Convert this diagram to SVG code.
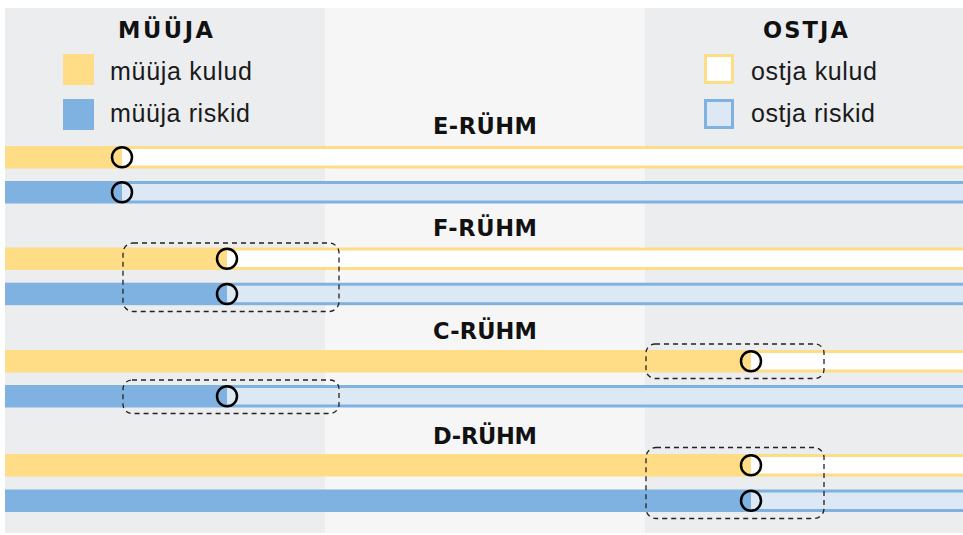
<svg xmlns="http://www.w3.org/2000/svg" width="963" height="535" viewBox="0 0 963 535">
<style>
.hd{font-family:"DejaVu Sans","Liberation Sans",Arial,sans-serif;font-weight:bold;font-size:22.5px;fill:#111}
.lg{font-family:"Liberation Sans",Arial,sans-serif;font-size:25px;fill:#1a1a1a}
.y{fill:#fedd86}
.b{fill:#80b2e1}
.w{fill:#ffffff}
.lb{fill:#dce8f4}
.c{fill:none;stroke:#000;stroke-width:2.5}
.d{fill:none;stroke:#222;stroke-width:1.3;stroke-dasharray:5 4}
</style>
<rect x="0" y="0" width="963" height="535" fill="#ffffff"/>
<g id="panels">
<rect x="5" y="8" width="320" height="525" fill="#ecedef"/>
<rect x="325" y="8" width="320" height="525" fill="#f6f6f6"/>
<rect x="645" y="8" width="318" height="525" fill="#ecedef"/>
</g>
<g id="legend-seller">
<text class="hd" x="118" y="38" textLength="95">MÜÜJA</text>
<rect class="y" x="63" y="54" width="31" height="31"/>
<text class="lg" x="110" y="80" textLength="142">müüja kulud</text>
<rect class="b" x="63" y="99" width="31" height="31"/>
<text class="lg" x="110" y="121.5" textLength="140">müüja riskid</text>
</g>
<g id="legend-buyer">
<text class="hd" x="763" y="38" textLength="85">OSTJA</text>
<rect x="705.5" y="55.5" width="27" height="27" fill="#fff" stroke="#fedd86" stroke-width="3"/>
<text class="lg" x="751" y="80" textLength="126">ostja kulud</text>
<rect x="705.5" y="100.5" width="27" height="27" fill="#dce8f4" stroke="#80b2e1" stroke-width="3"/>
<text class="lg" x="751" y="121.5" textLength="124">ostja riskid</text>
</g>
<g id="group-E">
<text class="hd" x="433" y="134" textLength="104">E-RÜHM</text>
<rect class="y" x="5" y="146" width="958" height="22.5"/>
<rect class="w" x="122" y="149" width="841" height="16.5"/>
<rect class="b" x="5" y="181" width="958" height="22.5"/>
<rect class="lb" x="122" y="184" width="841" height="16.5"/>
<circle class="c" cx="122" cy="157.2" r="10"/>
<circle class="c" cx="122" cy="192.2" r="10"/>
</g>
<g id="group-F">
<text class="hd" x="433" y="236" textLength="104">F-RÜHM</text>
<rect class="y" x="5" y="247.5" width="958" height="22.5"/>
<rect class="w" x="227" y="250.5" width="736" height="16.5"/>
<rect class="b" x="5" y="282.7" width="958" height="22.5"/>
<rect class="lb" x="227" y="285.7" width="736" height="16.5"/>
<circle class="c" cx="227" cy="258.7" r="10"/>
<circle class="c" cx="227" cy="294" r="10"/>
<rect class="d" x="123" y="243" width="216" height="68.5" rx="10"/>
</g>
<g id="group-C">
<text class="hd" x="433" y="338.5" textLength="104">C-RÜHM</text>
<rect class="y" x="5" y="350" width="958" height="22.5"/>
<rect class="w" x="751" y="353" width="212" height="16.5"/>
<rect class="b" x="5" y="385" width="958" height="22.5"/>
<rect class="lb" x="227" y="388" width="736" height="16.5"/>
<circle class="c" cx="751" cy="361.2" r="10"/>
<circle class="c" cx="227" cy="396.2" r="10"/>
<rect class="d" x="646" y="344" width="178" height="34.5" rx="9"/>
<rect class="d" x="123" y="380" width="216" height="33.5" rx="9"/>
</g>
<g id="group-D">
<text class="hd" x="433" y="444" textLength="104">D-RÜHM</text>
<rect class="y" x="5" y="454" width="958" height="22.5"/>
<rect class="w" x="751" y="457" width="212" height="16.5"/>
<rect class="b" x="5" y="489.5" width="958" height="22.5"/>
<rect class="lb" x="751" y="492.5" width="212" height="16.5"/>
<circle class="c" cx="751" cy="465.2" r="10"/>
<circle class="c" cx="751" cy="500.7" r="10"/>
<rect class="d" x="646" y="447.5" width="178" height="71" rx="10"/>
</g>
<g id="connectors"/>
</svg>
